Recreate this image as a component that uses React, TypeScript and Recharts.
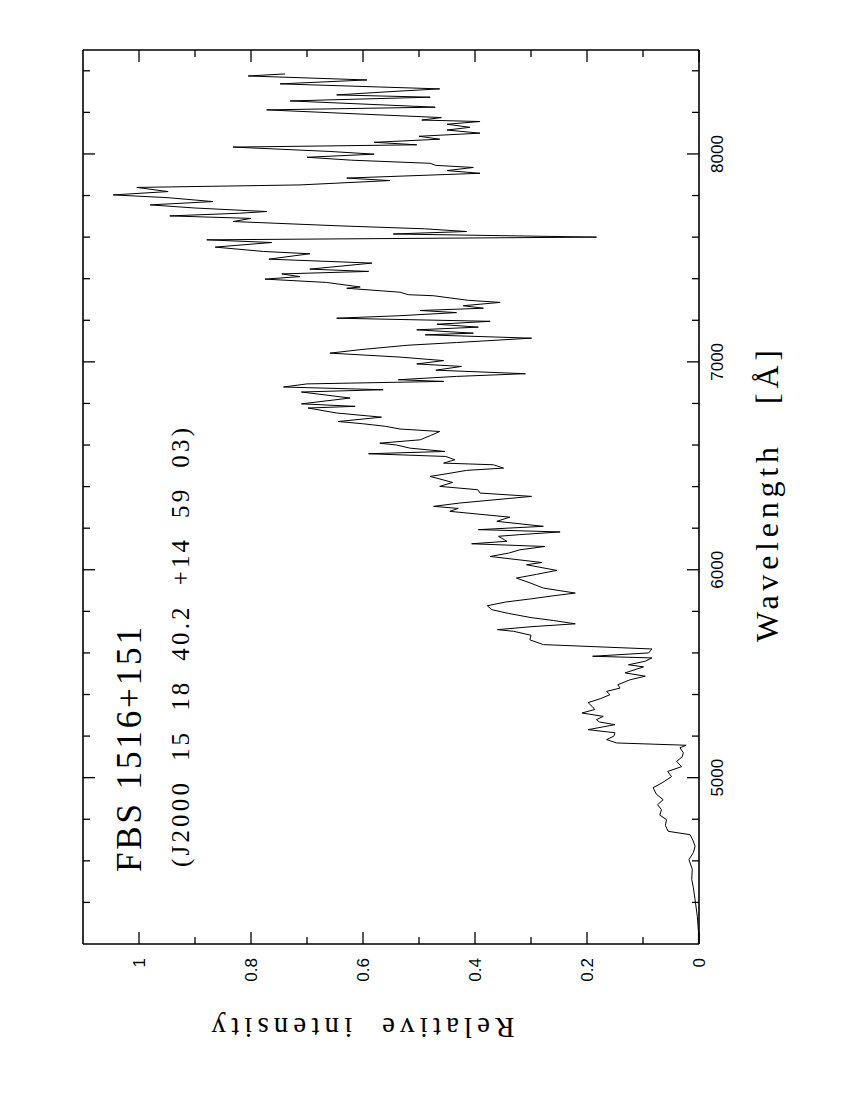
import React from 'react';
import { LineChart, Line, XAxis, YAxis } from 'recharts';

// spectrum of FBS 1516+151
const wavelengths = [
  4205, 4260, 4333, 4413, 4470, 4510, 4560, 4606, 4640, 4670, 4700, 4726, 4742, 4770, 4798, 4820,
  4846, 4870, 4894, 4920, 4952, 4975, 5005, 5030, 5053, 5078, 5100, 5120, 5144, 5156, 5167, 5183,
  5200, 5216, 5231, 5245, 5255, 5268, 5279, 5295, 5311, 5328, 5343, 5361, 5380, 5399, 5415, 5431,
  5447, 5471, 5488, 5504, 5533, 5543, 5560, 5576, 5584, 5600, 5619, 5640, 5663, 5685, 5704, 5712,
  5726, 5740, 5756, 5770, 5790, 5808, 5827, 5845, 5860, 5875, 5888, 5912, 5935, 5960, 5978, 5997,
  6024, 6035, 6064, 6080, 6096, 6112, 6125, 6137, 6161, 6169, 6182, 6193, 6209, 6233, 6253, 6281,
  6295, 6305, 6321, 6353, 6369, 6385, 6401, 6420, 6449, 6462, 6478, 6489, 6505, 6513, 6529, 6545,
  6558, 6569, 6585, 6600, 6609, 6625, 6645, 6665, 6677, 6690, 6702, 6713, 6734, 6754, 6778, 6786,
  6798, 6826, 6855, 6866, 6879, 6894, 6906, 6914, 6930, 6943, 6960, 6978, 6990, 7006, 7023, 7042,
  7060, 7080, 7093, 7114, 7130, 7138, 7154, 7167, 7181, 7195, 7210, 7222, 7237, 7247, 7258, 7270,
  7286, 7296, 7318, 7323, 7335, 7354, 7360, 7382, 7398, 7410, 7423, 7435, 7446, 7475, 7494, 7520,
  7531, 7552, 7574, 7587, 7600, 7615, 7627, 7640, 7654, 7675, 7690, 7702, 7715, 7723, 7740,
  7755, 7771, 7790, 7803, 7819, 7839, 7851, 7872, 7884, 7907, 7920, 7935, 7945, 7955, 7970, 7984,
  7999, 8012, 8033, 8044, 8056, 8071, 8085, 8100, 8115, 8128, 8143, 8156, 8163, 8175, 8192, 8212,
  8225, 8240, 8255, 8273, 8284, 8300, 8313, 8337, 8356, 8375, 8385,
];

const intensities = [
  0.001, 0.001, 0.003, 0.007, 0.01, 0.013, 0.012, 0.018, 0.01, 0.007, 0.011, 0.016, 0.055, 0.06, 0.058, 0.07,
  0.067, 0.074, 0.064, 0.076, 0.082, 0.066, 0.049, 0.056, 0.031, 0.04, 0.03, 0.028, 0.034, 0.023, 0.147, 0.165,
  0.152, 0.15, 0.198, 0.17, 0.15, 0.178, 0.183, 0.171, 0.209, 0.186, 0.191, 0.198, 0.176, 0.159, 0.165, 0.141,
  0.145, 0.123, 0.096, 0.132, 0.099, 0.126, 0.096, 0.084, 0.19, 0.09, 0.084, 0.278, 0.302, 0.3, 0.331, 0.36,
  0.3, 0.221, 0.26, 0.3, 0.34, 0.37, 0.378, 0.345, 0.3, 0.26, 0.221, 0.278, 0.3, 0.326, 0.29, 0.254,
  0.308, 0.281, 0.373, 0.34, 0.32, 0.275, 0.406, 0.343, 0.358, 0.32, 0.248, 0.394, 0.278, 0.361, 0.338, 0.445,
  0.43, 0.474, 0.427, 0.299, 0.391, 0.395, 0.463, 0.44, 0.48, 0.45, 0.415, 0.349, 0.367, 0.456, 0.436, 0.452,
  0.59, 0.454, 0.516, 0.54, 0.57, 0.498, 0.48, 0.463, 0.534, 0.56, 0.599, 0.644, 0.567, 0.647, 0.698, 0.614,
  0.71, 0.623, 0.71, 0.564, 0.742, 0.7, 0.456, 0.537, 0.433, 0.31, 0.47, 0.424, 0.504, 0.456, 0.534, 0.659,
  0.6, 0.52, 0.433, 0.299, 0.489, 0.403, 0.504, 0.394, 0.468, 0.373, 0.647, 0.534, 0.433, 0.498, 0.385, 0.421,
  0.355, 0.412, 0.474, 0.519, 0.534, 0.629, 0.605, 0.665, 0.775, 0.713, 0.745, 0.59, 0.695, 0.584, 0.768, 0.695,
  0.778, 0.864, 0.763, 0.879, 0.183, 0.546, 0.415, 0.49, 0.641, 0.832, 0.8, 0.945, 0.82, 0.772, 0.9,
  0.98, 0.868, 0.95, 1.046, 0.948, 1.004, 0.7125, 0.552, 0.629, 0.391, 0.45, 0.403, 0.47, 0.48, 0.62, 0.7,
  0.58, 0.659, 0.832, 0.504, 0.58, 0.463, 0.5, 0.391, 0.45, 0.409, 0.45, 0.391, 0.495, 0.46, 0.605, 0.772,
  0.471, 0.6, 0.73, 0.48, 0.647, 0.55, 0.463, 0.748, 0.593, 0.805, 0.739,
];

const waveTicks = [4400, 4600, 4800, 5000, 5200, 5400, 5600, 5800, 6000, 6200, 6400, 6600, 6800, 7000, 7200, 7400, 7600, 7800, 8000, 8200, 8400];
const intensityTicks = [0, 0.1, 0.2, 0.3, 0.4, 0.5, 0.6, 0.7, 0.8, 0.9, 1];
const intensityLabels: Record<string, string> = { '0': '0', '0.2': '0.2', '0.4': '0.4', '0.6': '0.6', '0.8': '0.8', '1': '1' };

const data = wavelengths.map((wl, i) => ({ wl, flux: intensities[i] }));

const sans = '"Liberation Sans", Arial, sans-serif';
const serif = '"Liberation Serif", "Times New Roman", serif';

const isMajorWave = (v: number) => v % 1000 === 0;
const isMajorInt = (v: number) => Math.round(v * 10) % 2 === 0;

// ticks point inwards, like the original plot
const BottomTick = (props: any) => {
  const { x, y, payload } = props;
  const major = isMajorWave(payload.value);
  return (
    <g>
      <line x1={x} y1={y} x2={x} y2={y - (major ? 12 : 7)} stroke="#000" strokeWidth={1.3} />
      {major && (
        <text x={x} y={y + 18} dy="0.35em" textAnchor="middle" fontSize={17} fontFamily={sans} fill="#000">
          {payload.value}
        </text>
      )}
    </g>
  );
};

const TopTick = (props: any) => {
  const { x, y, payload } = props;
  const major = isMajorWave(payload.value);
  return <line x1={x} y1={y} x2={x} y2={y + (major ? 12 : 7)} stroke="#000" strokeWidth={1.3} />;
};

const LeftTick = (props: any) => {
  const { x, y, payload } = props;
  const major = isMajorInt(payload.value);
  const label = intensityLabels[String(payload.value)];
  return (
    <g>
      <line x1={x} y1={y} x2={x + (major ? 12 : 7)} y2={y} stroke="#000" strokeWidth={1.3} />
      {label && (
        <text x={x - 14} y={y} dy="0.35em" textAnchor="end" fontSize={17} fontFamily={sans} fill="#000">
          {label}
        </text>
      )}
    </g>
  );
};

const RightTick = (props: any) => {
  const { x, y, payload } = props;
  const major = isMajorInt(payload.value);
  return <line x1={x} y1={y} x2={x - (major ? 12 : 7)} y2={y} stroke="#000" strokeWidth={1.3} />;
};

const frame = { stroke: '#000', strokeWidth: 1.6 };

export default function App() {
  return (
    <div style={{ position: 'absolute', left: 0, top: 0, width: 850, height: 1100, background: '#fff', overflow: 'hidden' }}>
      {/* the chart is drawn landscape, then turned a quarter to the left */}
      <div
        style={{
          position: 'absolute',
          left: 0,
          top: 0,
          width: 1100,
          height: 850,
          transformOrigin: '0 0',
          transform: 'translateY(1100px) rotate(-90deg)',
        }}
      >
        <LineChart width={1100} height={850} data={data} margin={{ top: 73, right: 40, bottom: 111, left: 96 }}>
          <XAxis
            dataKey="wl"
            type="number"
            domain={[4200, 8500]}
            allowDataOverflow
            ticks={waveTicks}
            interval={0}
            height={40}
            tickSize={0}
            tickMargin={0}
            tickLine={false}
            axisLine={frame}
            tick={<BottomTick />}
          />
          <XAxis
            xAxisId="top"
            orientation="top"
            dataKey="wl"
            type="number"
            domain={[4200, 8500]}
            allowDataOverflow
            ticks={waveTicks}
            interval={0}
            height={10}
            tickSize={0}
            tickMargin={0}
            tickLine={false}
            axisLine={frame}
            tick={<TopTick />}
          />
          <YAxis
            type="number"
            domain={[0, 1.1]}
            allowDataOverflow
            ticks={intensityTicks}
            interval={0}
            width={60}
            tickSize={0}
            tickMargin={0}
            tickLine={false}
            axisLine={frame}
            tick={<LeftTick />}
          />
          <YAxis
            yAxisId="right"
            orientation="right"
            type="number"
            domain={[0, 1.1]}
            allowDataOverflow
            ticks={intensityTicks}
            interval={0}
            width={10}
            tickSize={0}
            tickMargin={0}
            tickLine={false}
            axisLine={frame}
            tick={<RightTick />}
          />
          <Line
            type="linear"
            dataKey="flux"
            stroke="#000"
            strokeWidth={1}
            dot={false}
            activeDot={false}
            isAnimationActive={false}
          />
        </LineChart>
        <svg width={1100} height={850} style={{ position: 'absolute', left: 0, top: 0, pointerEvents: 'none' }}>
          <text x={228} y={141} fontSize={35} fontFamily={serif} textLength={245} lengthAdjust="spacing" style={{ whiteSpace: 'pre' }}>
            FBS 1516+151
          </text>
          <text x={233} y={189} fontSize={25} fontFamily={serif} textLength={439} lengthAdjust="spacing" style={{ whiteSpace: 'pre' }}>
            {'(J2000  15  18  40.2  +14  59  03)'}
          </text>
          <text x={458} y={778} fontSize={32} fontFamily={serif} textLength={292} lengthAdjust="spacing" style={{ whiteSpace: 'pre' }}>
            {'Wavelength   [Å]'}
          </text>
          <text
            x={82}
            y={363}
            transform="rotate(-90 82 363)"
            textAnchor="middle"
            fontSize={29}
            fontFamily={serif}
            textLength={303}
            lengthAdjust="spacing"
            style={{ whiteSpace: 'pre' }}
          >
            {'Relative  intensity'}
          </text>
        </svg>
      </div>
    </div>
  );
}
